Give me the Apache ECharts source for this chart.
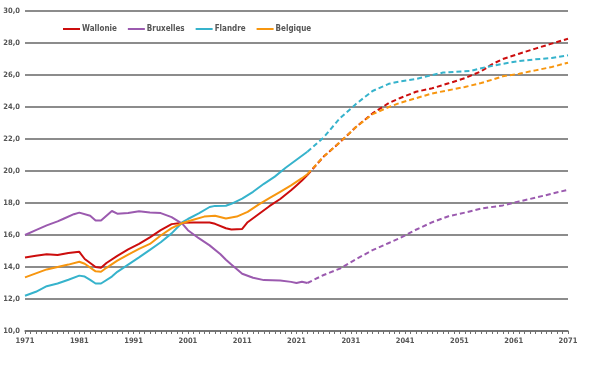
<!DOCTYPE html>
<html>
<head>
<meta charset="utf-8">
<script src="https://cdn.jsdelivr.net/npm/echarts@6/dist/echarts.min.js"></script>
<style>html,body{margin:0;padding:0;background:#fff}#c{width:600px;height:377px}</style>
</head>
<body>
<div id="c"></div>
<script>
const seriesNames = ['Wallonie', 'Bruxelles', 'Flandre', 'Belgique'];
const colors = ['#cc0d0d', '#9b5aaf', '#36b3cc', '#f7960f'];

// Historical (solid)
const walHistYears = [1971,1973,1975,1977,1979,1981,1982,1984,1985,1986,1988,1990,1992,1994,1996,1998,2000,2002,2005,2006,2008,2009,2011,2012,2014,2016,2018,2020,2021,2022,2023];
const walHistVals  = [14.6,14.7,14.8,14.75,14.88,14.95,14.5,14.0,13.95,14.25,14.7,15.1,15.44,15.85,16.3,16.68,16.76,16.78,16.78,16.7,16.42,16.35,16.38,16.8,17.3,17.8,18.25,18.8,19.1,19.4,19.75];
const bruHistYears = [1971,1973,1975,1977,1978,1980,1981,1983,1984,1985,1987,1988,1990,1992,1994,1996,1998,2000,2001,2003,2005,2007,2008,2009,2011,2013,2015,2018,2020,2021,2022,2023];
const bruHistVals  = [16.0,16.3,16.6,16.85,17.0,17.3,17.4,17.2,16.9,16.9,17.5,17.33,17.37,17.48,17.4,17.37,17.12,16.7,16.3,15.8,15.35,14.8,14.45,14.15,13.58,13.33,13.18,13.15,13.07,13.0,13.08,13.0];
const flaHistYears = [1971,1973,1975,1977,1979,1981,1982,1983,1984,1985,1987,1988,1990,1992,1994,1996,1998,2000,2001,2003,2005,2006,2008,2009,2011,2013,2015,2017,2019,2021,2023];
const flaHistVals  = [12.2,12.45,12.8,12.97,13.2,13.46,13.4,13.2,12.97,12.97,13.4,13.7,14.15,14.6,15.07,15.55,16.1,16.8,17.0,17.35,17.75,17.82,17.83,17.95,18.27,18.7,19.2,19.65,20.2,20.7,21.2];
const belHistYears = [1971,1973,1975,1977,1979,1981,1982,1984,1985,1986,1988,1990,1992,1994,1996,1998,2000,2002,2004,2006,2008,2010,2012,2014,2016,2018,2020,2022,2023];
const belHistVals  = [13.35,13.6,13.85,14.0,14.15,14.33,14.2,13.73,13.7,13.95,14.4,14.78,15.13,15.44,15.97,16.43,16.75,16.95,17.15,17.2,17.03,17.15,17.45,17.9,18.3,18.7,19.1,19.55,19.8];

// Projections (dashed)
const walProjYears = [2023,2026,2029,2032,2035,2038,2040,2043,2046,2049,2052,2055,2057,2059,2062,2065,2068,2071];
const walProjVals  = [19.75,20.9,21.8,22.76,23.6,24.25,24.55,24.95,25.17,25.48,25.8,26.23,26.67,27.0,27.33,27.65,27.96,28.27];
const bruProjYears = [2023,2026,2029,2032,2035,2038,2040,2043,2046,2049,2052,2055,2059,2062,2065,2068,2071];
const bruProjVals  = [13.0,13.5,13.9,14.5,15.05,15.5,15.8,16.33,16.8,17.17,17.4,17.65,17.85,18.1,18.33,18.58,18.83];
const flaProjYears = [2023,2026,2029,2032,2035,2038,2040,2043,2046,2048,2053,2056,2059,2062,2065,2068,2071];
const flaProjVals  = [21.2,22.1,23.3,24.2,25.0,25.45,25.6,25.75,26.0,26.15,26.25,26.5,26.7,26.87,26.98,27.06,27.23];
const belProjYears = [2023,2026,2029,2032,2035,2038,2040,2043,2046,2049,2052,2055,2057,2059,2062,2065,2068,2071];
const belProjVals  = [19.8,20.9,21.8,22.76,23.55,24.0,24.25,24.55,24.85,25.05,25.25,25.5,25.7,25.92,26.08,26.29,26.5,26.77];

const yTicks = [10,12,14,16,18,20,22,24,26,28,30];
const xLabelYears = [1971,1981,1991,2001,2011,2021,2031,2041,2051,2061,2071];

const hist = [[walHistYears,walHistVals],[bruHistYears,bruHistVals],[flaHistYears,flaHistVals],[belHistYears,belHistVals]];
const proj = [[walProjYears,walProjVals],[bruProjYears,bruProjVals],[flaProjYears,flaProjVals],[belProjYears,belProjVals]];
const zip = (a,b) => a.map((x,i)=>[x,b[i]]);

const font = "'Liberation Sans Narrow','DejaVu Sans Condensed',sans-serif";
const series = [];
// order drawing: Bruxelles, Flandre, Belgique, Wallonie on top
const order = [1,2,3,0];
order.forEach(i => {
  series.push({name: seriesNames[i], type:'line', data: zip(hist[i][0], hist[i][1]), symbol:'none', smooth:false,
    lineStyle:{color:colors[i], width:2}, itemStyle:{color:colors[i]}, z: 3+i, animation:false});
  series.push({name: seriesNames[i]+' projection', type:'line', data: zip(proj[i][0], proj[i][1]), symbol:'none', smooth:false,
    lineStyle:{color:colors[i], width:2, type:[5,3]}, itemStyle:{color:colors[i]}, z: 3+i, animation:false});
});

const chart = echarts.init(document.getElementById('c'), null, {renderer:'canvas'});
chart.setOption({
  animation:false,
  backgroundColor:'#fff',
  legend:{
    data: seriesNames.map((n,i)=>({name:n, icon:'rect'})),
    left: 58, top: 20, itemWidth: 17, itemHeight: 2, itemGap: 11,
    textStyle:{fontFamily:font, fontSize:8, color:'#555', fontWeight:'bold', padding:[0,0,0,-3]}
  },
  grid:{left:25, right:32, top:11, height:320, containLabel:false},
  xAxis:{
    type:'value', min:1971, max:2071, interval:1,
    axisLine:{show:true, lineStyle:{color:'#6e6e6e', width:1.5}},
    axisTick:{show:true, length:3, lineStyle:{color:'#6e6e6e', width:1}},
    splitLine:{show:false},
    axisLabel:{fontFamily:font, fontSize:7.5, color:'#555', fontWeight:'bold', margin:6,
      formatter: v => xLabelYears.includes(v) ? String(v) : ''}
  },
  yAxis:{
    type:'value', min:yTicks[0], max:yTicks[yTicks.length-1], interval:2,
    axisLine:{show:false}, axisTick:{show:false},
    splitLine:{show:true, lineStyle:{color:'#8c8c8c', width:2}},
    axisLabel:{fontFamily:font, fontSize:7.5, color:'#555', fontWeight:'bold', margin:5,
      formatter: v => v.toFixed(1).replace('.', ',')}
  },
  series: series
});
</script>
</body>
</html>
